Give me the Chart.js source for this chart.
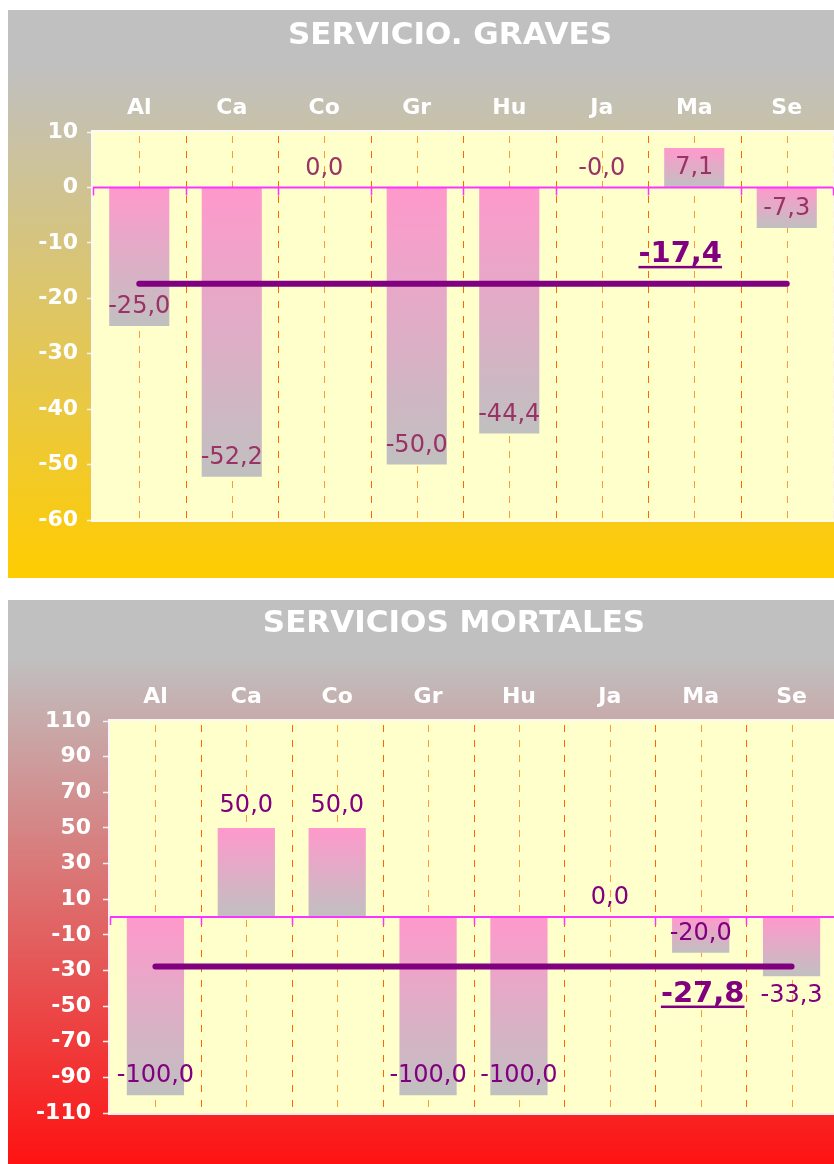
<!DOCTYPE html>
<html>
<head>
<meta charset="utf-8">
<script src="https://cdn.jsdelivr.net/npm/chart.js@4.4.1/dist/chart.umd.min.js"></script>
<style>
  html, body { margin: 0; padding: 0; background: #fff; overflow: hidden; width: 834px; height: 1164px; }
  .box { position: absolute; left: 8px; }
  #box1 { top: 10px; }
  #box2 { top: 600px; }
</style>
</head>
<body>
<div class="box" id="box1"><canvas id="graves" width="884" height="568"></canvas></div>
<div class="box" id="box2"><canvas id="mortales" width="892" height="570"></canvas></div>
<script>
// chart data
const provincias = ["Al", "Ca", "Co", "Gr", "Hu", "Ja", "Ma", "Se"];

const graves_values = [-25.0, -52.2, 0.0, -50.0, -44.4, -0.01, 7.1, -7.3];
const graves_media = -17.4;
const graves_ticks = [10, 0, -10, -20, -30, -40, -50, -60];
const graves_label_pos = ["in", "in", "above", "in", "in", "above", "in", "in"];

const mortales_values = [-100.0, 50.0, 50.0, -100.0, -100.0, 0.0, -20.0, -33.3];
const mortales_media = -27.8;
const mortales_ticks = [110, 90, 70, 50, 30, 10, -10, -30, -50, -70, -90, -110];
const mortales_label_pos = ["in", "out", "out", "in", "in", "above", "in", "out"];

const FONT = "'DejaVu Sans', Verdana, sans-serif";
const PINK = "#ff99cc";
const GRAY = "#c0c0c0";
const PURPLE = "#800080";

function fmt(v) {
    return v.toFixed(1).replace(".", ",");
}

// bars fade from pink at the top to gray at the bottom
function barGradient(ctx) {
    const chart = ctx.chart;
    if (!chart.chartArea || ctx.type !== "data") return PINK;
    const y = chart.scales.y;
    const a = y.getPixelForValue(ctx.raw);
    const b = y.getPixelForValue(0);
    const top = Math.min(a, b), bot = Math.max(a, b);
    if (bot - top < 1) return PINK;
    const g = chart.ctx.createLinearGradient(0, top, 0, bot);
    g.addColorStop(0, PINK);
    g.addColorStop(1, GRAY);
    return g;
}

// background, dashed grid, zero line and labels
const decor = {
    id: "decor",
    beforeDraw(chart, args, opts) {
        const { ctx, width, height, chartArea: a } = chart;
        ctx.save();
        const bg = ctx.createLinearGradient(0, 0, 0, height);
        bg.addColorStop(0, GRAY);
        bg.addColorStop(0.1, GRAY);
        bg.addColorStop(1, opts.bottom);
        ctx.fillStyle = bg;
        ctx.fillRect(0, 0, width, height);
        ctx.fillStyle = "#ffffcc";
        ctx.fillRect(a.left, a.top, a.right - a.left, a.bottom - a.top);
        ctx.restore();
    },
    beforeDatasetsDraw(chart) {
        const { ctx, chartArea: a, scales: { x } } = chart;
        const step = x.getPixelForValue(1) - x.getPixelForValue(0);
        ctx.save();
        ctx.lineWidth = 1;
        ctx.setLineDash([7, 8]);
        for (let i = 0; i < provincias.length; i++) {
            const cx = Math.round(x.getPixelForValue(i)) + 0.5;
            ctx.strokeStyle = "#ff9933";
            ctx.beginPath(); ctx.moveTo(cx, a.top + 4); ctx.lineTo(cx, a.bottom); ctx.stroke();
            const bx = Math.round(x.getPixelForValue(i) + step / 2) + 0.5;
            ctx.strokeStyle = "#ff6600";
            ctx.beginPath(); ctx.moveTo(bx, a.top + 4); ctx.lineTo(bx, a.bottom); ctx.stroke();
        }
        ctx.setLineDash([]);
        ctx.strokeStyle = "rgba(255,255,255,0.9)";
        ctx.lineWidth = 2;
        ctx.strokeRect(a.left - 1, a.top - 1, a.right - a.left + 2, a.bottom - a.top + 2);
        ctx.restore();
    },
    afterDatasetsDraw(chart, args, opts) {
        const { ctx, chartArea: a, scales: { x, y } } = chart;
        const step = x.getPixelForValue(1) - x.getPixelForValue(0);
        const y0 = y.getPixelForValue(0);
        ctx.save();
        // zero axis line
        ctx.strokeStyle = "#ff33ff";
        ctx.lineWidth = 2;
        ctx.beginPath(); ctx.moveTo(a.left, y0); ctx.lineTo(a.right, y0); ctx.stroke();
        ctx.lineWidth = 1.5;
        for (let i = 0; i <= provincias.length; i++) {
            const bx = Math.round(x.getPixelForValue(i) - step / 2) + 0.5;
            ctx.beginPath(); ctx.moveTo(bx, y0); ctx.lineTo(bx, y0 + 8); ctx.stroke();
        }
        // value labels
        const values = chart.data.datasets.find(d => d.type === "bar").data;
        ctx.font = "24px " + FONT;
        ctx.fillStyle = opts.labelColor;
        ctx.textAlign = "center";
        ctx.textBaseline = "middle";
        values.forEach((v, i) => {
            const px = x.getPixelForValue(i);
            const py = y.getPixelForValue(v);
            const pos = opts.labelPos[i];
            let ly;
            if (pos === "above") ly = py - 19;
            else if (pos === "in") ly = v > 0 ? py + 20 : py - 19;
            else ly = v > 0 ? py - 22 : py + 19;
            ctx.fillText(fmt(v), px, ly);
        });
        // average label, bold and underlined
        const m = opts.media;
        const txt = fmt(m);
        const mx = x.getPixelForValue(opts.mediaIndex) + opts.mediaDx;
        const my = y.getPixelForValue(m) + opts.mediaDy;
        ctx.font = "bold 29px " + FONT;
        ctx.fillStyle = PURPLE;
        ctx.fillText(txt, mx, my);
        const w = ctx.measureText(txt).width;
        ctx.fillRect(mx - w / 2, my + 11, w, 2.5);
        ctx.restore();
    }
};

function buildChart(id, cfg) {
    return new Chart(id, {
        type: "bar",
        data: {
            labels: provincias,
            datasets: [{
                type: "line",
                data: provincias.map(() => cfg.media),
                borderColor: PURPLE,
                borderWidth: 6,
                borderCapStyle: "round",
                pointRadius: 0,
                yAxisID: "y",
                order: 0
            }, {
                type: "bar",
                data: cfg.values,
                backgroundColor: barGradient,
                borderWidth: 0,
                barPercentage: cfg.barPct,
                categoryPercentage: 1,
                yAxisID: "y",
                order: 1
            }]
        },
        options: {
            responsive: false,
            animation: false,
            layout: { padding: { left: 0, right: 0, top: 0, bottom: cfg.padBottom } },
            plugins: {
                legend: { display: false },
                tooltip: { enabled: false },
                title: {
                    display: true,
                    text: cfg.title,
                    color: "#ffffff",
                    font: { family: FONT, size: 31, weight: "bold" },
                    padding: { top: cfg.titleTop, bottom: 0 }
                },
                decor: {
                    bottom: cfg.bottomColor,
                    labelColor: cfg.labelColor,
                    labelPos: cfg.labelPos,
                    media: cfg.media,
                    mediaIndex: 6,
                    mediaDx: cfg.mediaDx,
                    mediaDy: cfg.mediaDy
                }
            },
            scales: {
                x: {
                    position: "top",
                    offset: true,
                    grid: { display: false, drawTicks: false },
                    border: { display: false },
                    ticks: {
                        color: "#ffffff",
                        font: { family: FONT, size: 22, weight: "bold" },
                        padding: cfg.xPad,
                        maxRotation: 0
                    },
                    afterFit: s => { s.height = cfg.xHeight; }
                },
                y: {
                    min: cfg.min,
                    max: cfg.max,
                    grid: { drawOnChartArea: false, drawTicks: true, tickLength: cfg.tickLen, tickColor: "#f2f2f2", tickWidth: 1.5 },
                    border: { display: false },
                    ticks: {
                        color: "#ffffff",
                        font: { family: FONT, size: 22, weight: "bold" },
                        padding: cfg.yPad,
                        callback: v => String(v)
                    },
                    afterBuildTicks: s => { s.ticks = cfg.ticks.map(v => ({ value: v })); },
                    afterFit: s => { s.width = cfg.yWidth; }
                },
                yR: {
                    type: "linear",
                    position: "right",
                    grid: { display: false, drawTicks: false },
                    border: { display: false },
                    ticks: { display: false },
                    afterFit: s => { s.width = cfg.rightGap; }
                }
            }
        },
        plugins: [decor]
    });
}

buildChart("graves", {
    title: "SERVICIO. GRAVES",
    values: graves_values,
    media: graves_media,
    ticks: graves_ticks,
    labelPos: graves_label_pos,
    min: -60, max: 10,
    bottomColor: "#ffcc00",
    labelColor: "#993366",
    barPct: 0.65,
    titleTop: 7.4,
    xHeight: 77.4,
    xPad: 10.5,
    yWidth: 85,
    yPad: 9,
    tickLen: 6,
    rightGap: 59,
    padBottom: 58,
    mediaDx: -14,
    mediaDy: -29
});

buildChart("mortales", {
    title: "SERVICIOS MORTALES",
    values: mortales_values,
    media: mortales_media,
    ticks: mortales_ticks,
    labelPos: mortales_label_pos,
    min: -110, max: 110,
    bottomColor: "#ff1010",
    labelColor: "#800080",
    barPct: 0.63,
    titleTop: 5.4,
    xHeight: 78.4,
    xPad: 11,
    yWidth: 102,
    yPad: 12,
    tickLen: 7,
    rightGap: 63,
    padBottom: 57,
    mediaDx: 2,
    mediaDy: 28
});
</script>
</body>
</html>
